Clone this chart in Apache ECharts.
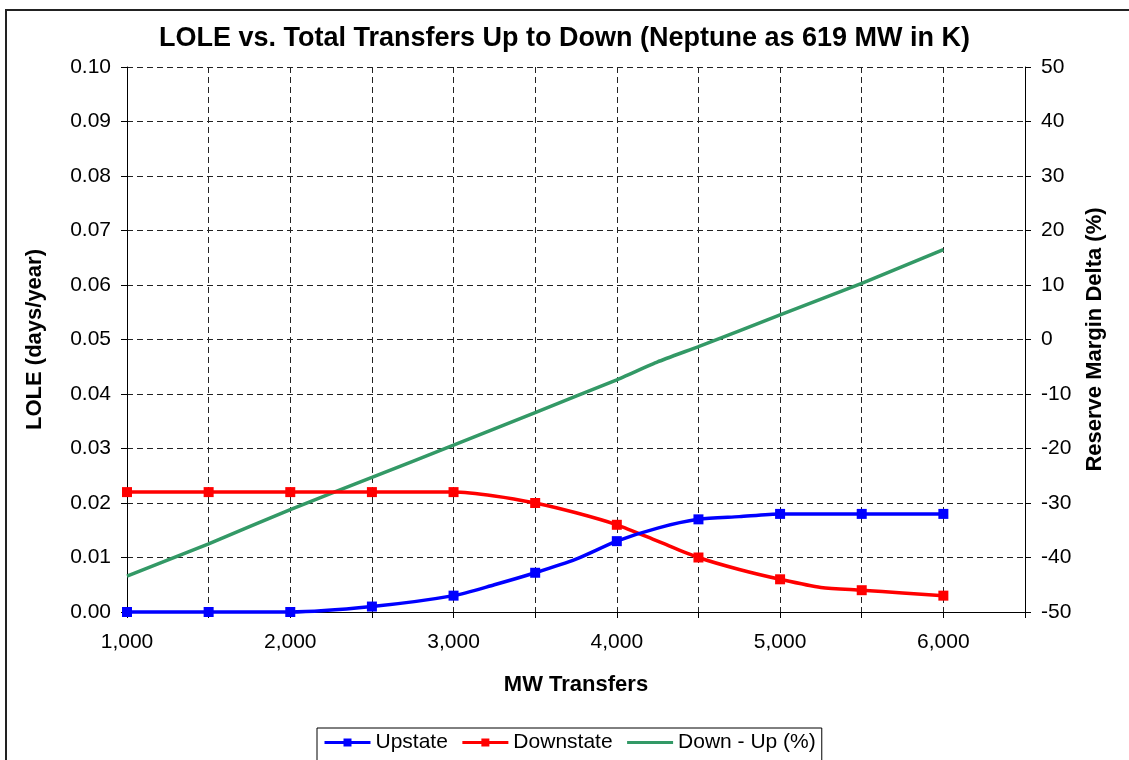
<!DOCTYPE html>
<html>
  <head>
    <meta charset="utf-8">
    <title>LOLE vs. Total Transfers</title>
    <script src="https://cdn.jsdelivr.net/npm/echarts@6/dist/echarts.min.js"></script>
    <style>
      html, body { margin: 0; padding: 0; background: #fff; }
    </style>
  </head>
  <body>
    <div id="main" style="width:1129px;height:760px;"></div>
    <script>
// MW transfers with markers
var transfers = [1000, 1500, 2000, 2500, 3000, 3500, 4000, 4500, 5000, 5500, 6000];
var upstate   = [0, 0, 0, 0.001, 0.003, 0.0072, 0.013, 0.017, 0.018, 0.018, 0.018];
var downstate = [0.022, 0.022, 0.022, 0.022, 0.022, 0.020, 0.016, 0.010, 0.006, 0.004, 0.003];

// unmarked points in between (the curves bend there)
var midTransfers = [3250, 3750, 4250, 4750, 5250, 5750];
var upstateMid   = [0.005, 0.0097, 0.0154, 0.0175, 0.018, 0.018];
var downstateMid = [0.0213, 0.0182, 0.013, 0.0078, 0.0045, 0.0035];

// Down - Up reserve margin delta (%), right axis
var deltaTransfers = [1000, 1500, 2000, 2500, 3000, 3500, 4000, 4250, 4500, 5000, 5500, 6000];
var downMinusUp    = [-43.4, -37.5, -31.2, -25.3, -19.4, -13.4, -7.4, -4.1, -1.3, 4.5, 10.3, 16.5];

function merge(vals, midVals) {
  var pts = [];
  transfers.forEach(function (x, i) { pts.push({ value: [x, vals[i]] }); });
  midTransfers.forEach(function (x, i) { pts.push({ value: [x, midVals[i]], symbol: 'none' }); });
  pts.sort(function (a, b) { return a.value[0] - b.value[0]; });
  return pts;
}

var font = 'Liberation Sans, Arial, sans-serif';
var gridLine = { show: true, lineStyle: { color: '#222', type: [6, 4], width: 1 } };
var nameStyle = { fontFamily: font, fontSize: 22, fontWeight: 'bold', color: '#000' };

var myChart = echarts.init(document.getElementById('main'));
myChart.setOption({
  animation: false,
  textStyle: { fontFamily: font, color: '#000' },
  title: {
    text: 'LOLE vs. Total Transfers Up to Down (Neptune as 619 MW in K)',
    left: 'center',
    top: 20,
    textStyle: { fontFamily: font, fontSize: 27, fontWeight: 'bold', color: '#000' }
  },
  graphic: [{
    type: 'rect',
    shape: { x: 6, y: 10, width: 1140, height: 800 },
    style: { fill: 'none', stroke: '#222', lineWidth: 2 },
    silent: true
  }],
  legend: {
    left: 317,
    top: 728,
    padding: [4, 6, 10, 6],
    itemGap: 13,
    itemWidth: 46,
    itemHeight: 10,
    borderColor: '#000',
    borderWidth: 1,
    backgroundColor: '#fff',
    lineStyle: { width: 3 },
    textStyle: { fontFamily: font, fontSize: 21, color: '#000' },
    data: ['Upstate', 'Downstate', { name: 'Down - Up (%)', itemStyle: { opacity: 0 } }]
  },
  grid: { left: 127, right: 104, top: 67, bottom: 148 },
  xAxis: {
    type: 'value',
    min: 1000,
    max: 6500,
    interval: 500,
    name: 'MW Transfers',
    nameLocation: 'middle',
    nameGap: 62,
    nameTextStyle: nameStyle,
    axisLine: { lineStyle: { color: '#000', width: 1 } },
    axisTick: { show: true, inside: false, length: 6, lineStyle: { color: '#000' } },
    axisLabel: {
      margin: 20,
      fontSize: 21,
      color: '#000',
      fontFamily: font,
      formatter: function (v) { return v % 1000 === 0 ? v.toLocaleString('en-US') : ''; }
    },
    splitLine: gridLine
  },
  yAxis: [{
    type: 'value',
    min: 0,
    max: 0.1,
    interval: 0.01,
    position: 'left',
    name: 'LOLE (days/year)',
    nameLocation: 'middle',
    nameGap: 81,
    nameTextStyle: nameStyle,
    axisLine: { show: true, lineStyle: { color: '#000', width: 1 } },
    axisTick: { show: true, length: 6, lineStyle: { color: '#000' } },
    axisLabel: {
      margin: 16, fontSize: 21, color: '#000', fontFamily: font,
      formatter: function (v) { return v.toFixed(2); }
    },
    splitLine: gridLine
  }, {
    type: 'value',
    min: -50,
    max: 50,
    interval: 10,
    position: 'right',
    name: 'Reserve Margin Delta (%)',
    nameLocation: 'middle',
    nameGap: 59,
    nameTextStyle: nameStyle,
    axisLine: { show: true, lineStyle: { color: '#000', width: 1 } },
    axisTick: { show: true, length: 6, lineStyle: { color: '#000' } },
    axisLabel: { margin: 16, fontSize: 21, color: '#000', fontFamily: font },
    splitLine: { show: false }
  }],
  series: [{
    name: 'Upstate',
    type: 'line',
    yAxisIndex: 0,
    data: merge(upstate, upstateMid),
    smooth: 0.25,
    symbol: 'rect',
    symbolSize: 10,
    clip: false,
    itemStyle: { color: '#0000ff' },
    lineStyle: { color: '#0000ff', width: 3.5 },
    z: 4
  }, {
    name: 'Downstate',
    type: 'line',
    yAxisIndex: 0,
    data: merge(downstate, downstateMid),
    smooth: 0.25,
    symbol: 'rect',
    symbolSize: 10,
    clip: false,
    itemStyle: { color: '#ff0000' },
    lineStyle: { color: '#ff0000', width: 3.5 },
    z: 3
  }, {
    name: 'Down - Up (%)',
    type: 'line',
    yAxisIndex: 1,
    data: deltaTransfers.map(function (x, i) { return [x, downMinusUp[i]]; }),
    smooth: 0.15,
    symbol: 'none',
    itemStyle: { color: '#339966' },
    lineStyle: { color: '#339966', width: 3.5 },
    z: 2
  }]
});
    </script>
  </body>
</html>
